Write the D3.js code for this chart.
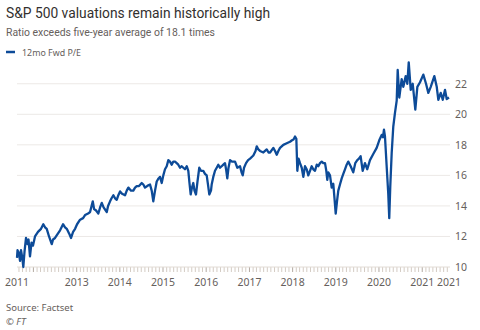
<!DOCTYPE html>
<html>
<head>
<meta charset="utf-8">
<script src="https://cdn.jsdelivr.net/npm/d3@7"></script>
<style>
  body { margin: 0; background: #ffffff; }
  svg text { font-family: "Noto Sans", "Open Sans", sans-serif; }
  svg text.head { font-family: Roboto, "Noto Sans", sans-serif; }
</style>
</head>
<body>
<div id="chart"></div>
<script>
// 12-month forward P/E, weekly-ish readings as decimal years
var years = [
  2011.620, 2011.632, 2011.667, 2011.690, 2011.713, 2011.743, 2011.766, 2011.794, 2011.829, 2011.863,
  2011.887, 2011.921, 2011.956, 2011.991, 2012.037, 2012.106, 2012.176, 2012.229, 2012.269, 2012.308,
  2012.361, 2012.424, 2012.454, 2012.500, 2012.546, 2012.616, 2012.685, 2012.731, 2012.771, 2012.824,
  2012.870, 2012.917, 2012.963, 2013.009, 2013.079, 2013.148, 2013.194, 2013.264, 2013.310, 2013.345,
  2013.373, 2013.403, 2013.449, 2013.502, 2013.542, 2013.581, 2013.623, 2013.697, 2013.727, 2013.773,
  2013.808, 2013.850, 2013.889, 2013.928, 2013.965, 2014.005, 2014.051, 2014.120, 2014.160, 2014.197,
  2014.259, 2014.312, 2014.352, 2014.391, 2014.444, 2014.507, 2014.544, 2014.583, 2014.660, 2014.699,
  2014.738, 2014.775, 2014.815, 2014.854, 2014.896, 2014.931, 2014.970, 2015.007, 2015.046, 2015.086,
  2015.123, 2015.162, 2015.201, 2015.238, 2015.278, 2015.317, 2015.354, 2015.394, 2015.433, 2015.470,
  2015.509, 2015.549, 2015.586, 2015.613, 2015.641, 2015.671, 2015.701, 2015.729, 2015.764, 2015.799,
  2015.840, 2015.880, 2015.933, 2015.972, 2016.012, 2016.042, 2016.072, 2016.111, 2016.127, 2016.164,
  2016.204, 2016.243, 2016.280, 2016.319, 2016.359, 2016.396, 2016.435, 2016.465, 2016.488, 2016.516,
  2016.551, 2016.597, 2016.667, 2016.720, 2016.782, 2016.817, 2016.845, 2016.875, 2016.921, 2016.968,
  2017.014, 2017.090, 2017.141, 2017.169, 2017.206, 2017.245, 2017.322, 2017.400, 2017.442, 2017.477,
  2017.553, 2017.593, 2017.632, 2017.669, 2017.708, 2017.785, 2017.863, 2017.940, 2017.986, 2018.021,
  2018.056, 2018.086, 2018.109, 2018.137, 2018.171, 2018.211, 2018.248, 2018.287, 2018.326, 2018.363,
  2018.403, 2018.442, 2018.479, 2018.519, 2018.558, 2018.595, 2018.634, 2018.674, 2018.711, 2018.750,
  2018.780, 2018.803, 2018.826, 2018.866, 2018.905, 2018.942, 2018.970, 2018.998, 2019.028, 2019.058,
  2019.097, 2019.137, 2019.174, 2019.213, 2019.252, 2019.289, 2019.345, 2019.405, 2019.451, 2019.498,
  2019.537, 2019.576, 2019.623, 2019.676, 2019.729, 2019.792, 2019.868, 2019.947, 2020.007, 2020.063,
  2020.093, 2020.116, 2020.139, 2020.178, 2020.215, 2020.238, 2020.262, 2020.294, 2020.331, 2020.370,
  2020.410, 2020.433, 2020.470, 2020.525, 2020.563, 2020.618, 2020.655, 2020.688, 2020.734, 2020.780,
  2020.840, 2020.887, 2020.949, 2021.025, 2021.088, 2021.141, 2021.197, 2021.280, 2021.336, 2021.373,
  2021.428, 2021.475, 2021.528, 2021.567, 2021.620
];

var peRatio = [
  10.6, 11.1, 10.9, 10.4, 11.1, 10.6, 10.0, 11.0, 11.9, 11.5,
  11.8, 10.7, 11.6, 11.4, 12.0, 12.3, 12.5, 12.8, 12.6, 12.5,
  12.0, 11.5, 11.8, 11.9, 12.1, 12.4, 12.8, 12.6, 12.5, 12.2,
  11.9, 12.3, 12.5, 12.8, 13.1, 13.2, 13.4, 13.5, 13.6, 14.0,
  14.3, 13.8, 13.7, 13.5, 13.9, 14.2, 13.9, 13.6, 14.0, 14.3,
  14.5, 14.7, 14.5, 14.4, 14.7, 14.95, 14.8, 14.7, 15.0, 15.2,
  15.0, 15.0, 15.2, 15.3, 15.3, 15.5, 15.4, 15.2, 15.35, 15.4,
  15.0, 14.3, 15.0, 15.6, 15.8, 15.9, 15.5, 16.0, 16.4, 16.6,
  17.0, 16.9, 16.7, 16.9, 16.9, 16.8, 16.7, 16.5, 16.6, 16.5,
  16.4, 16.6, 16.3, 15.5, 14.75, 15.2, 15.5, 15.0, 14.75, 15.6,
  16.5, 16.3, 16.3, 16.1, 16.0, 15.4, 14.75, 15.0, 15.4, 15.9,
  16.3, 16.5, 16.7, 16.5, 16.6, 16.7, 16.8, 16.3, 15.8, 16.5,
  17.0, 16.9, 16.9, 16.5, 16.6, 16.2, 16.0, 16.5, 16.8, 17.0,
  17.1, 17.3, 17.6, 17.9, 17.7, 17.6, 17.5, 17.7, 17.5, 17.5,
  17.8, 17.6, 17.35, 17.6, 17.8, 18.0, 18.1, 18.2, 18.3, 18.35,
  18.55, 18.4, 16.3, 17.1, 16.8, 16.5, 15.9, 16.6, 16.4, 16.0,
  16.3, 16.6, 16.4, 16.3, 16.7, 16.6, 16.8, 16.9, 16.8, 16.8,
  16.3, 15.7, 16.2, 16.0, 15.2, 15.45, 14.5, 13.5, 14.3, 15.0,
  15.4, 15.8, 16.1, 16.4, 16.7, 16.9, 16.6, 16.2, 16.8, 17.0,
  17.1, 17.25, 16.3, 16.8, 16.4, 17.0, 17.4, 17.8, 18.3, 18.65,
  18.5, 19.0, 18.55, 16.6, 14.8, 13.2, 15.3, 17.45, 19.2, 20.1,
  20.9, 22.9, 21.1, 22.3, 21.8, 22.5, 22.0, 23.4, 21.6, 22.0,
  20.3, 21.8, 22.1, 22.6, 22.0, 21.4, 21.8, 22.5, 21.8, 20.95,
  21.4, 20.95, 21.6, 21.0, 21.1
];

var yTicks = [10, 12, 14, 16, 18, 20, 22];
var xTickYears = [2011.62, 2013, 2014, 2015, 2016, 2017, 2018, 2019, 2020, 2021, 2021.62];
var xTickLabels = ["2011", "2013", "2014", "2015", "2016", "2017", "2018", "2019", "2020", "2021", "2021"];

// decimal year -> Date
function toDate(y) {
    var yr = Math.floor(y);
    var start = new Date(yr, 0, 1), end = new Date(yr + 1, 0, 1);
    return new Date(+start + (y - yr) * (end - start));
}

var data = years.map(function(y, i) { return {date: toDate(y), value: peRatio[i]}; });

var width = 480, height = 330;
var margin = {top: 62, right: 31, bottom: 63, left: 17};
var blue = "#0d4b98", grey = "#66605c";

var svg = d3.select("#chart").append("svg")
    .attr("width", width)
    .attr("height", height);

var x = d3.scaleTime()
    .domain([toDate(xTickYears[0]), toDate(xTickYears[xTickYears.length - 1])])
    .range([margin.left, width - margin.right]);

var y = d3.scaleLinear()
    .domain([10, 24])
    .range([height - margin.bottom, height - margin.bottom - 14 * 15.27]);

// titles
svg.append("text")
    .attr("class", "head")
    .attr("x", 6).attr("y", 18)
    .attr("font-size", 15.5)
    .attr("fill", "#33302e")
    .attr("textLength", 264)
    .attr("lengthAdjust", "spacingAndGlyphs")
    .text("S&P 500 valuations remain historically high");

svg.append("text")
    .attr("class", "head")
    .attr("x", 6).attr("y", 36)
    .attr("font-size", 11)
    .attr("fill", grey)
    .attr("textLength", 209)
    .attr("lengthAdjust", "spacingAndGlyphs")
    .text("Ratio exceeds five-year average of 18.1 times");

// legend
svg.append("line")
    .attr("x1", 6).attr("x2", 15)
    .attr("y1", 52).attr("y2", 52)
    .attr("stroke", blue)
    .attr("stroke-width", 2.5);

svg.append("text")
    .attr("x", 22).attr("y", 55.5)
    .attr("font-size", 9.5)
    .attr("fill", grey)
    .attr("textLength", 59)
    .attr("lengthAdjust", "spacingAndGlyphs")
    .text("12mo Fwd P/E");

// horizontal gridlines + right-hand labels
var grid = svg.append("g");
grid.selectAll("line")
    .data(yTicks.filter(function(d) { return d > 10; }))
    .enter().append("line")
    .attr("x1", margin.left).attr("x2", width - margin.right + 1)
    .attr("y1", function(d) { return y(d); })
    .attr("y2", function(d) { return y(d); })
    .attr("stroke", "#ece9e6")
    .attr("stroke-width", 1);

svg.append("g").selectAll("text")
    .data(yTicks)
    .enter().append("text")
    .attr("x", width - margin.right + 6)
    .attr("y", function(d) { return y(d) + 4; })
    .attr("font-size", 10.5)
    .attr("fill", grey)
    .text(function(d) { return d; });

// monthly ticks hanging below the baseline
var base = y(10);
var months = d3.timeMonth.range(x.domain()[0], x.domain()[1]);
svg.append("g").selectAll("line")
    .data(months)
    .enter().append("line")
    .attr("x1", function(d) { return x(d); })
    .attr("x2", function(d) { return x(d); })
    .attr("y1", base)
    .attr("y2", base + 5)
    .attr("stroke", function(d) { return d.getMonth() === 0 ? "#b3aaa2" : "#d4ccc4"; })
    .attr("stroke-width", 1);

svg.append("line")
    .attr("x1", margin.left).attr("x2", width - margin.right + 1)
    .attr("y1", base).attr("y2", base)
    .attr("stroke", "#e2dcd6")
    .attr("stroke-width", 1);

// year labels
svg.append("g").selectAll("text")
    .data(xTickYears)
    .enter().append("text")
    .attr("x", function(d) { return x(toDate(d)); })
    .attr("y", base + 19)
    .attr("text-anchor", "middle")
    .attr("font-size", 10.5)
    .attr("fill", grey)
    .text(function(d, i) { return xTickLabels[i]; });

// the P/E line
var line = d3.line()
    .x(function(d) { return x(d.date); })
    .y(function(d) { return y(d.value); });

svg.append("path")
    .datum(data)
    .attr("d", line)
    .attr("fill", "none")
    .attr("stroke", blue)
    .attr("stroke-width", 2.3)
    .attr("stroke-linejoin", "round");

// footer
svg.append("text")
    .attr("x", 6).attr("y", 311)
    .attr("font-size", 9.5)
    .attr("fill", grey)
    .text("Source: Factset");

svg.append("text")
    .attr("x", 6).attr("y", 325)
    .attr("font-size", 9.5)
    .attr("font-style", "italic")
    .attr("fill", grey)
    .text("© FT");
</script>
</body>
</html>
